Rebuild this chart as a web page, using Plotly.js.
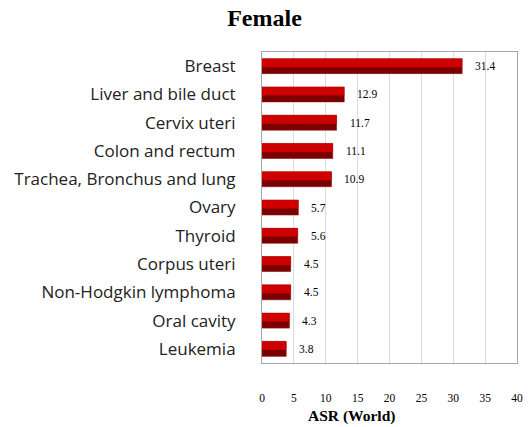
<!DOCTYPE html>
<html><head><meta charset="utf-8">
<script src="https://cdn.plot.ly/plotly-3.0.1.min.js"></script>
<style>body{margin:0;background:#fff}#c{width:529px;height:427px}</style>
</head><body><div id="c"></div>
<script>
const categories = ["Breast","Liver and bile duct","Cervix uteri","Colon and rectum","Trachea, Bronchus and lung","Ovary","Thyroid","Corpus uteri","Non-Hodgkin lymphoma","Oral cavity","Leukemia"];
const values = [31.4,12.9,11.7,11.1,10.9,5.7,5.6,4.5,4.5,4.3,3.8];
const valueLabels = ["31.4","12.9","11.7","11.1","10.9","5.7","5.6","4.5","4.5","4.3","3.8"];
const xTicks = [0,5,10,15,20,25,30,35,40];

const dark = {type:'bar',orientation:'h',x:values,y:categories,width:0.53,
  marker:{color:'#7a0000',line:{color:'#9a1010',width:0.6}},hoverinfo:'skip'};
const light = {type:'bar',orientation:'h',x:values,y:categories,width:0.3,offset:-0.265,
  marker:{color:'#cf0000',line:{width:0}},hoverinfo:'skip'};

const annotations = values.map((v,i)=>({x:v,y:categories[i],xref:'x',yref:'y',text:valueLabels[i],
  showarrow:false,xanchor:'left',xshift:11,font:{family:'Liberation Serif',size:11.5,color:'#000'}}));
annotations.push({text:'<b>ASR (World)</b>',xref:'paper',yref:'paper',x:0.35,y:0,yshift:-53,
  xanchor:'center',yanchor:'middle',showarrow:false,font:{family:'Liberation Serif',size:15.5,color:'#000'}});

Plotly.newPlot('c',[dark,light],{
  width:529,height:427,margin:{l:262,r:12,t:52,b:64},
  paper_bgcolor:'#fff',plot_bgcolor:'#fff',barmode:'overlay',showlegend:false,
  title:{text:'<b>Female</b>',x:0.5,xref:'container',y:0.958,yanchor:'middle',
    font:{family:'Liberation Serif',size:24,color:'#000'}},
  xaxis:{range:[0,40],tickvals:xTicks,ticktext:xTicks.map(String),showgrid:true,gridcolor:'#dcdce8',
    zeroline:false,showline:true,linecolor:'#a6a6a6',mirror:true,ticks:'',ticklabelstandoff:24,
    tickfont:{family:'Liberation Serif',size:11.5,color:'#000'},fixedrange:true},
  yaxis:{type:'category',categoryorder:'array',categoryarray:categories,range:[10.5,-0.5],
    showgrid:false,zeroline:false,showline:true,linecolor:'#a6a6a6',mirror:true,ticks:'',
    ticklabelstandoff:22,tickfont:{family:'Open Sans',size:17,color:'#222'},fixedrange:true},
  annotations:annotations
},{displayModeBar:false,staticPlot:true});
</script></body></html>
